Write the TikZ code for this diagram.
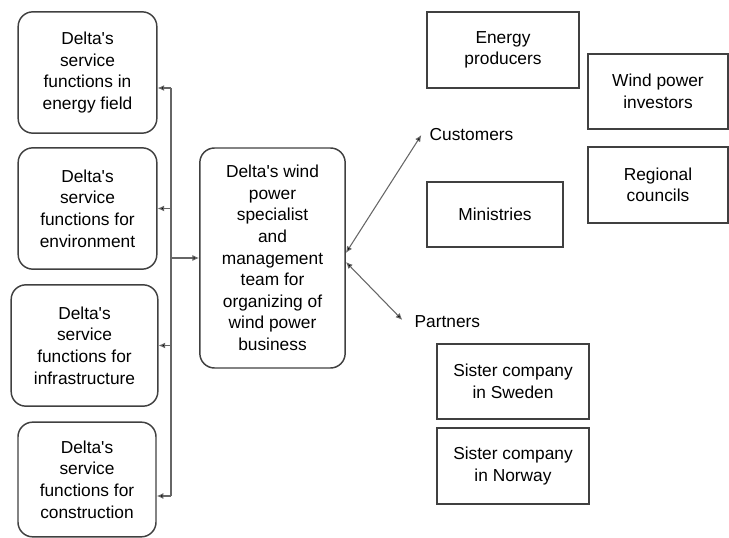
\documentclass[tikz,border=0pt]{standalone}
\usepackage{fontspec}
\setmainfont{Liberation Sans}
\usetikzlibrary{arrows.meta,positioning}

\newcommand{\dlt}{Delta\textquotesingle s}

\begin{document}
\begin{tikzpicture}[x=0.75pt,y=-0.75pt,
    every node/.style={font=\fontsize{13}{16.2}\selectfont, align=center},
    svcbox/.style={draw=black!75, line width=1.1pt, rounded corners=11pt, inner sep=0pt},
    orgbox/.style={draw=black!75, line width=1.1pt, inner sep=0pt},
    tip/.tip={Latex[length=5pt,width=4.5pt,fill=black]},
    link/.style={draw=black!60, line width=0.8pt, -tip}]

    \useasboundingbox (0,0) rectangle (729,538);

    % Service functions
    \node[svcbox, minimum width=104pt, minimum height=91pt] (svc1) at (87.5,72.5) {\dlt\\service\\functions in\\energy field};
    \node[svcbox, minimum width=104pt, minimum height=91pt] (svc2) at (87.5,208.5) {\dlt\\service\\functions for\\environment};
    \node[svcbox, minimum width=110pt, minimum height=91pt] (svc3) at (84.5,345.5) {\dlt\\service\\functions for\\infrastructure};
    \node[svcbox, minimum width=103.5pt, minimum height=86pt] (svc4) at (87,479.5) {\dlt\\service\\functions for\\construction};

    % Team
    \node[svcbox, minimum width=109pt, minimum height=165pt] (team) at (272.5,258)
        {\dlt{} wind\\power\\specialist\\and\\management\\team for\\organizing of\\wind power\\business};

    % Customers and partners
    \node[orgbox, minimum width=114pt, minimum height=57pt] (energy) at (503,50) {Energy\\producers};
    \node[orgbox, minimum width=105pt, minimum height=56pt] (investors) at (658,91.5) {Wind power\\investors};
    \node[orgbox, minimum width=105pt, minimum height=57pt] (councils) at (658,185) {Regional\\councils};
    \node[orgbox, minimum width=102pt, minimum height=49pt] (ministries) at (495,214.5) {Ministries};
    \node[orgbox, minimum width=114pt, minimum height=56pt] (sweden) at (513,381.5) {Sister company\\in Sweden};
    \node[orgbox, minimum width=114pt, minimum height=57pt] (norway) at (513,466) {Sister company\\in Norway};

    \node[anchor=west, inner sep=1pt] (customers) at (428,135) {Customers};
    \node[anchor=west, inner sep=1pt] (partners) at (413,322) {Partners};

    % Bus
    \coordinate (bustop) at (171,88);
    \coordinate (busbot) at (171,496);
    \draw[draw=black!60, line width=0.8pt] (bustop) -- (busbot);
    \draw[link] (bustop) -- (bustop -| svc1.east);
    \draw[link] (bustop |- svc2.east) -- (svc2.east);
    \draw[link] (bustop |- svc3.east) -- (svc3.east);
    \draw[link] (busbot) -- (busbot -| svc4.east);
    \draw[link] (bustop |- team.west) -- (team.west);

    \draw[link, tip-tip] ([yshift=3.75pt]team.east) -- ([xshift=-5pt]customers.west);
    \draw[link, tip-tip] ([yshift=-3pt]team.east) -- ([xshift=-8pt,yshift=1.5pt]partners.west);
\end{tikzpicture}
\end{document}
